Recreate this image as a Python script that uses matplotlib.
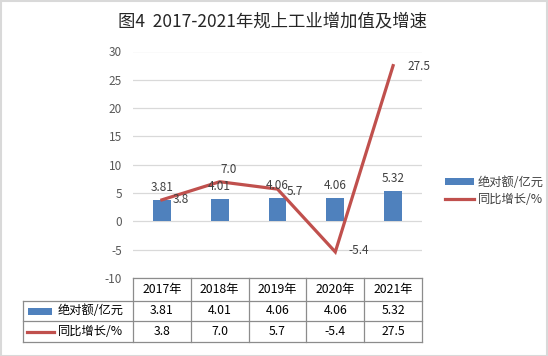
import matplotlib
matplotlib.use("Agg")
import matplotlib.pyplot as plt
import matplotlib.transforms as mtransforms
from matplotlib.patches import Rectangle, Patch
from matplotlib.lines import Line2D

plt.rcParams['font.family'] = ['Noto Sans CJK SC', 'DejaVu Sans']

# ---- data ----
years = ["2017年", "2018年", "2019年", "2020年", "2021年"]
absolute = [3.81, 4.01, 4.06, 4.06, 5.32]
growth = [3.8, 7.0, 5.7, -5.4, 27.5]
absolute_labels = ["3.81", "4.01", "4.06", "4.06", "5.32"]
growth_labels = ["3.8", "7.0", "5.7", "-5.4", "27.5"]
series_names = ["绝对额/亿元", "同比增长/%"]
title = "图4  2017-2021年规上工业增加值及增速"
yticks = [-10, -5, 0, 5, 10, 15, 20, 25, 30]

# ---- style ----
W, H = 548, 356
BLUE = "#4F81BD"
RED = "#C0504D"
TXT = "#404040"
GRID = "#D9D9D9"
TBL = "#8C8C8C"
# label offsets for growth labels (pixels: dx, dy upward)
g_off = [(11, 0), (9, 12), (9, -2), (13, 1), (14, -1)]
g_ha = ["left", "center", "left", "left", "left"]

fig = plt.figure(figsize=(W / 100, H / 100), dpi=100)

def fx(px):
    return px / W

def fy(py):
    return 1 - py / H

ax_l, ax_r, ax_t, ax_b = 133, 422, 51.5, 278
ax = fig.add_axes([fx(ax_l), fy(ax_b), fx(ax_r - ax_l), (ax_b - ax_t) / H])

x = list(range(len(years)))
ax.bar(x, absolute, width=0.31, color=BLUE, zorder=2)
ax.plot(x, growth, color=RED, lw=2.3, zorder=3, solid_joinstyle='miter')

ax.set_xlim(-0.5, len(years) - 0.5)
ax.set_ylim(-10, 30)
ax.set_yticks(yticks)
ax.set_yticklabels([str(t) for t in yticks])
ax.tick_params(axis='y', length=0, pad=8, labelsize=8.5, labelcolor="#595959")
ax.set_xticks([])
for s in ax.spines.values():
    s.set_visible(False)
ax.grid(axis='y', color=GRID, lw=0.9, zorder=0)
ax.set_axisbelow(True)

for i, (v, lab) in enumerate(zip(absolute, absolute_labels)):
    ax.annotate(lab, (i, v), xytext=(0, 6), textcoords='offset pixels',
                ha='center', va='bottom', fontsize=8.5, color=TXT)
for i, (v, lab) in enumerate(zip(growth, growth_labels)):
    dx, dy = g_off[i]
    ax.annotate(lab, (i, v), xytext=(dx, dy), textcoords='offset pixels',
                ha=g_ha[i], va='center', fontsize=8.5, color=TXT)

# title
fig.text(fx(273), fy(21), title, ha='center', va='center', fontsize=12.5, color="#262626")

# legend
handles = [Patch(facecolor=BLUE, edgecolor='none'),
           Line2D([0], [0], color=RED, lw=2.3)]
leg = fig.legend(handles, series_names, loc='center left',
                 bbox_to_anchor=(fx(434), fy(191)), frameon=False,
                 fontsize=8.8, handlelength=2.4, handleheight=0.6,
                 handletextpad=0.3, labelspacing=0.35, labelcolor=TXT)

# ---- data table ----
blend = mtransforms.blended_transform_factory(ax.transData, fig.transFigure)
rows_px = [278, 301, 321, 342]
left_px = 23
left_data = -0.5 - (ax_l - left_px) / ((ax_r - ax_l) / len(years))
n = len(years)
lkw = dict(color=TBL, lw=0.9, clip_on=False, transform=blend)
# horizontal lines
fig.add_artist(Line2D([-0.5, n - 0.5], [fy(rows_px[0])] * 2, **lkw))
for r in rows_px[1:]:
    fig.add_artist(Line2D([left_data, n - 0.5], [fy(r)] * 2, **lkw))
# vertical lines
fig.add_artist(Line2D([left_data, left_data], [fy(rows_px[1]), fy(rows_px[3])], **lkw))
for i in range(n + 1):
    xv = i - 0.5
    fig.add_artist(Line2D([xv, xv], [fy(rows_px[0]), fy(rows_px[3])], **lkw))

def rowc(k):
    return fy((rows_px[k] + rows_px[k + 1]) / 2)

for i, yl in enumerate(years):
    fig.text(i, rowc(0), yl, transform=blend, ha='center', va='center', fontsize=8.8, color="#000000")
for i, lab in enumerate(absolute_labels):
    fig.text(i, rowc(1), lab, transform=blend, ha='center', va='center', fontsize=8.8, color="#000000")
for i, lab in enumerate(growth_labels):
    fig.text(i, rowc(2), lab, transform=blend, ha='center', va='center', fontsize=8.8, color="#000000")

# legend keys inside table
fig.add_artist(Rectangle((fx(28), rowc(1) - 3.5 / H), fx(24), 7 / H, transform=fig.transFigure,
                         facecolor=BLUE, edgecolor='none'))
fig.add_artist(Line2D([fx(27), fx(54)], [rowc(2)] * 2, transform=fig.transFigure, color=RED, lw=2.3))
fig.text(fx(58), rowc(1), series_names[0], ha='left', va='center', fontsize=8.8, color="#000000")
fig.text(fx(58), rowc(2), series_names[1], ha='left', va='center', fontsize=8.8, color="#000000")

# outer border
fig.add_artist(Rectangle((0.5 / W, 0.5 / H), 1 - 1.5 / W, 1 - 1.5 / H, transform=fig.transFigure,
                         fill=False, edgecolor="#D9D9D9", lw=1.5))

fig.savefig("out.png", dpi=100)
